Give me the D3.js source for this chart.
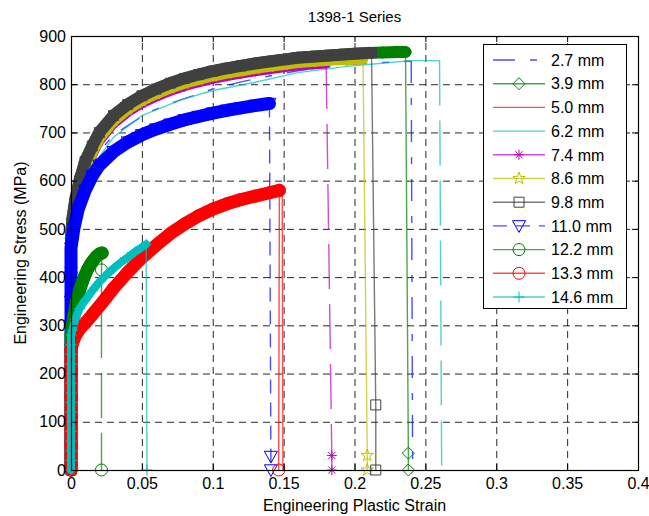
<!DOCTYPE html>
<html>
<head>
<meta charset="utf-8">
<script src="https://cdn.jsdelivr.net/npm/d3@7"></script>
<style>
  body { margin: 0; background: #fff; }
  text { font-family: "Liberation Sans", Arial, Helvetica, sans-serif; fill: #000; }
</style>
</head>
<body>
<div id="chart"></div>
<script>
// ---- data ----
const chartTitle = '1398-1 Series';
const xLabel = 'Engineering Plastic Strain';
const yLabel = 'Engineering Stress (MPa)';

const xTickValues = [0, 0.05, 0.1, 0.15, 0.2, 0.25, 0.3, 0.35, 0.4];
const xTickLabels = ['0', '0.05', '0.1', '0.15', '0.2', '0.25', '0.3', '0.35', '0.4'];
const yTickValues = [0, 100, 200, 300, 400, 500, 600, 700, 800, 900];
const yTickLabels = ['0', '100', '200', '300', '400', '500', '600', '700', '800', '900'];

const seriesLabels = ['2.7 mm', '3.9 mm', '5.0 mm', '6.2 mm', '7.4 mm', '8.6 mm',
    '9.8 mm', '11.0 mm', '12.2 mm', '13.3 mm', '14.6 mm'];

// [strain, stress] up to the failure point
const curve27 = [[0, 0], [0, 440], [0.001, 480], [0.003, 525], [0.006, 565], [0.01, 600], [0.015, 632],
    [0.02, 660], [0.03, 695], [0.043, 720], [0.055, 742], [0.068, 758], [0.08, 770], [0.1, 790],
    [0.12, 805], [0.14, 817], [0.16, 828], [0.18, 836], [0.2, 842], [0.22, 845], [0.24, 848]];
const curve39 = [[0, 0], [0, 60], [0, 120], [0, 180], [0, 240], [0, 300], [0, 360], [0, 420], [0, 480],
    [0.001, 520], [0.003, 560], [0.006, 600], [0.01, 640], [0.015, 672], [0.02, 700], [0.03, 735],
    [0.04, 758], [0.05, 776], [0.06, 790], [0.07, 802], [0.08, 812], [0.09, 820], [0.1, 827],
    [0.11, 833], [0.12, 838], [0.13, 843], [0.14, 847], [0.15, 851], [0.16, 855], [0.17, 857],
    [0.18, 859], [0.19, 861], [0.2, 863], [0.21, 865], [0.22, 866], [0.23, 867], [0.236, 867]];
const curve50 = [[0, 0], [0, 250], [0.001, 264], [0.003, 280], [0.006, 294], [0.01, 307], [0.02, 342],
    [0.03, 379], [0.04, 412], [0.05, 442], [0.06, 468], [0.07, 492], [0.08, 512], [0.09, 529],
    [0.1, 543], [0.11, 554], [0.12, 563], [0.13, 570], [0.14, 577], [0.149, 582]];
const curve62 = [[0, 0], [0, 430], [0.001, 470], [0.005, 540], [0.01, 590], [0.02, 650], [0.03, 690],
    [0.05, 735], [0.078, 768], [0.1, 787], [0.13, 804], [0.16, 824], [0.195, 837], [0.225, 845],
    [0.24, 849], [0.26, 849]];
const curve74 = [[0, 0], [0, 50], [0, 100], [0, 150], [0, 200], [0, 250], [0, 300], [0, 350], [0, 400],
    [0, 450], [0.001, 498], [0.003, 538], [0.006, 579], [0.01, 619], [0.015, 652], [0.02, 681],
    [0.03, 717], [0.04, 741], [0.05, 759], [0.06, 773], [0.07, 785], [0.08, 795], [0.09, 803],
    [0.1, 810], [0.11, 816], [0.12, 821], [0.13, 826], [0.14, 830], [0.15, 834], [0.16, 838],
    [0.17, 840], [0.18, 842]];
const curve86 = [[0, 0], [0, 50], [0, 100], [0, 150], [0, 200], [0, 250], [0, 300], [0, 350], [0, 400],
    [0, 460], [0.001, 505], [0.003, 545], [0.006, 586], [0.01, 626], [0.015, 659], [0.02, 688],
    [0.03, 724], [0.04, 748], [0.05, 766], [0.06, 780], [0.07, 792], [0.08, 802], [0.09, 810],
    [0.1, 817], [0.11, 823], [0.12, 828], [0.13, 833], [0.14, 837], [0.15, 841], [0.16, 845],
    [0.17, 847], [0.18, 849], [0.19, 851], [0.2, 852], [0.206, 853]];
const curve98 = [[0, 0], [0, 60], [0, 120], [0, 180], [0, 240], [0, 300], [0, 360], [0, 420], [0, 480],
    [0.001, 520], [0.003, 560], [0.006, 600], [0.01, 640], [0.015, 672], [0.02, 700], [0.03, 735],
    [0.04, 758], [0.05, 776], [0.06, 790], [0.07, 802], [0.08, 812], [0.09, 820], [0.1, 827],
    [0.11, 833], [0.12, 838], [0.13, 843], [0.14, 847], [0.15, 851], [0.16, 855], [0.17, 857],
    [0.18, 859], [0.19, 861], [0.2, 863], [0.212, 865]];
const curve110 = [[0, 0], [0, 50], [0, 100], [0, 150], [0, 200], [0, 250], [0, 300], [0, 350], [0, 400],
    [0, 460], [0.002, 500], [0.005, 540], [0.01, 580], [0.015, 610], [0.02, 632], [0.03, 660],
    [0.04, 680], [0.05, 695], [0.06, 707], [0.07, 717], [0.08, 726], [0.09, 733], [0.1, 740],
    [0.11, 746], [0.12, 751], [0.13, 756], [0.14, 760]];
const curve122 = [[0, 0], [0, 50], [0, 100], [0, 150], [0, 200], [0, 250], [0, 280], [0.001, 300],
    [0.002, 320], [0.004, 350], [0.006, 372], [0.008, 390], [0.01, 405], [0.012, 418], [0.014, 428],
    [0.016, 436], [0.018, 443], [0.02, 448], [0.022, 450]];
const curve133 = [[0, 0], [0, 50], [0, 100], [0, 150], [0, 200], [0, 250], [0.001, 262], [0.003, 278],
    [0.006, 292], [0.01, 305], [0.015, 322], [0.02, 340], [0.025, 358], [0.03, 377], [0.04, 410],
    [0.05, 440], [0.06, 466], [0.07, 490], [0.08, 510], [0.09, 527], [0.1, 541], [0.11, 552],
    [0.12, 561], [0.13, 568], [0.14, 575], [0.147, 580]];
const curve146 = [[0, 0], [0, 20], [0, 40], [0, 60], [0, 80], [0, 100], [0, 120], [0, 140], [0, 160],
    [0, 180], [0, 200], [0, 220], [0, 240], [0, 260], [0, 280], [0.001, 290], [0.003, 312],
    [0.006, 335], [0.01, 352], [0.015, 372], [0.02, 390], [0.025, 405], [0.03, 418], [0.035, 430],
    [0.04, 441], [0.045, 452], [0.05, 462], [0.053, 468]];

const seriesCurves = [curve27, curve39, curve50, curve62, curve74, curve86,
    curve98, curve110, curve122, curve133, curve146];

// after failure each record drops to zero at this strain, through these stresses
const dropStrain = [0.241, 0.238, 0.1495, 0.2615, 0.184, 0.209, 0.215, 0.141, 0.0215, 0.1465, 0.0536];
const dropStress = [[0], [35, 0], [0], [0], [30, 0], [30, 0], [135, 0], [28, 0], [415, 0], [0], [0]];

// ---- styles ----
const colors = ['#0000ff', '#008000', '#ff0000', '#00bfbf', '#bf00bf', '#bfbf00',
    '#404040', '#0000ff', '#008000', '#ff0000', '#00bfbf'];
const markers = [null, 'diamond', null, null, 'star', 'pentagram', 'square', 'triangle', 'circle', 'circle', 'plus'];
const dashDot = '22,15,7,15';
const dashed = '14,9';
const lineDash = [dashDot, null, null, null, null, null, null, dashed, null, null, null];
const dropDash = [dashDot, null, null, '45,15', '45,15', null, null, dashed, '45,15', null, null];
const markerSize = {square: 10, diamond: 12, triangle: 13, circle: 12, star: 10, pentagram: 13, plus: 11};
const bandWidth = {square: 12, diamond: 12, triangle: 13, circle: 13, star: 9, pentagram: 11, plus: 8};

const W = 649, H = 516;
const margin = {top: 36, right: 11, bottom: 46, left: 71};

const svg = d3.select('#chart').append('svg')
    .attr('width', W)
    .attr('height', H);

const x = d3.scaleLinear().domain([0, 0.4]).range([margin.left, W - margin.right]);
const y = d3.scaleLinear().domain([0, 900]).range([H - margin.bottom, margin.top]);
const plotW = x(0.4) - x(0), plotH = y(0) - y(900);

// white plot area
svg.append('rect')
    .attr('x', x(0)).attr('y', y(900))
    .attr('width', plotW).attr('height', plotH)
    .attr('fill', '#fff');

// grid
const gx = svg.append('g')
    .attr('transform', `translate(0,${y(0)})`)
    .call(d3.axisBottom(x).tickValues(xTickValues).tickSize(-plotH).tickFormat(''));
const gy = svg.append('g')
    .attr('transform', `translate(${x(0)},0)`)
    .call(d3.axisLeft(y).tickValues(yTickValues).tickSize(-plotW).tickFormat(''));
[gx, gy].forEach(g => {
    g.select('.domain').remove();
    g.selectAll('line').attr('stroke', '#000').attr('stroke-dasharray', '7,5').attr('stroke-opacity', 0.85);
});

// marker shapes
function markerPath(type) {
    const s = markerSize[type], r = s / 2;
    switch (type) {
        case 'square': return `M${-r},${-r}H${r}V${r}H${-r}Z`;
        case 'diamond': return `M0,${-r}L${r},0L0,${r}L${-r},0Z`;
        case 'triangle': return `M${-r},${-s * 0.4}L${r},${-s * 0.4}L0,${s * 0.5}Z`;
        case 'circle': return d3.symbol(d3.symbolCircle, Math.PI * r * r)();
        case 'plus': return `M${-r},0H${r}M0,${-r}V${r}`;
        case 'star': {
            const d = r * 0.72;
            return `M${-r},0H${r}M0,${-r}V${r}M${-d},${-d}L${d},${d}M${-d},${d}L${d},${-d}`;
        }
        case 'pentagram': {
            let p = '';
            for (let k = 0; k < 10; k++) {
                const rad = k % 2 === 0 ? r : r * 0.4;
                const a = -Math.PI / 2 + k * Math.PI / 5;
                p += (k === 0 ? 'M' : 'L') + (rad * Math.cos(a)).toFixed(2) + ',' + (rad * Math.sin(a)).toFixed(2);
            }
            return p + 'Z';
        }
    }
}

const line = d3.line().x(d => x(d[0])).y(d => y(d[1]));
const plot = svg.append('g');

seriesCurves.forEach((pts, i) => {
    const g = plot.append('g');
    const col = colors[i];
    const drop = dropStress[i].map(s => [dropStrain[i], s]);

    // thin line through the record
    g.append('path')
        .attr('d', line(pts))
        .attr('fill', 'none')
        .attr('stroke', col)
        .attr('stroke-width', 1.4)
        .attr('stroke-opacity', 0.7)
        .attr('stroke-dasharray', lineDash[i]);

    // drop after failure
    g.append('path')
        .attr('d', line([pts[pts.length - 1], ...drop]))
        .attr('fill', 'none')
        .attr('stroke', col)
        .attr('stroke-width', 1.4)
        .attr('stroke-opacity', 0.7)
        .attr('stroke-dasharray', dropDash[i]);

    const m = markers[i];
    if (!m) return;

    // dense markers along the record read as a solid band
    g.append('path')
        .attr('d', line(pts))
        .attr('fill', 'none')
        .attr('stroke', col)
        .attr('stroke-width', bandWidth[m])
        .attr('stroke-linejoin', 'round')
        .attr('stroke-linecap', 'round');

    g.selectAll('.mk')
        .data(pts.concat(drop))
        .enter().append('path')
        .attr('class', 'mk')
        .attr('d', markerPath(m))
        .attr('transform', d => `translate(${x(d[0])},${y(d[1])})`)
        .attr('fill', 'none')
        .attr('stroke', col)
        .attr('stroke-width', 1);
});

// axes: inner ticks on all four sides + labels
const fs = 16;
const xb = svg.append('g')
    .attr('transform', `translate(0,${y(0)})`)
    .call(d3.axisBottom(x).tickValues(xTickValues).tickSize(-6).tickPadding(8)
        .tickFormat((d, i) => xTickLabels[i]));
const yl = svg.append('g')
    .attr('transform', `translate(${x(0)},0)`)
    .call(d3.axisLeft(y).tickValues(yTickValues).tickSize(-6).tickPadding(5)
        .tickFormat((d, i) => yTickLabels[i]));
const xt = svg.append('g')
    .attr('transform', `translate(0,${y(900)})`)
    .call(d3.axisTop(x).tickValues(xTickValues).tickSize(-6).tickFormat(''));
const yr = svg.append('g')
    .attr('transform', `translate(${x(0.4)},0)`)
    .call(d3.axisRight(y).tickValues(yTickValues).tickSize(-6).tickFormat(''));
[xb, yl, xt, yr].forEach(g => {
    g.select('.domain').remove();
    g.selectAll('line').attr('stroke', '#000');
    g.selectAll('text').attr('font-size', fs).attr('font-family', '"Liberation Sans", Arial, sans-serif');
});

// axes box
svg.append('rect')
    .attr('x', x(0) + 0.5).attr('y', y(900) + 0.5)
    .attr('width', plotW).attr('height', plotH)
    .attr('fill', 'none')
    .attr('stroke', '#000')
    .attr('stroke-width', 1.2);

// title and axis labels
svg.append('text')
    .attr('x', (x(0) + x(0.4)) / 2).attr('y', 22)
    .attr('text-anchor', 'middle').attr('font-size', 15)
    .text(chartTitle);
svg.append('text')
    .attr('x', (x(0) + x(0.4)) / 2).attr('y', 511)
    .attr('text-anchor', 'middle').attr('font-size', fs)
    .text(xLabel);
svg.append('text')
    .attr('transform', `translate(26,${(y(0) + y(900)) / 2}) rotate(-90)`)
    .attr('text-anchor', 'middle').attr('font-size', fs)
    .text(yLabel);

// legend
const lg = svg.append('g').attr('transform', 'translate(483,44)');
lg.append('rect')
    .attr('x', 0.5).attr('y', 0.5)
    .attr('width', 143).attr('height', 264)
    .attr('fill', '#fff').attr('stroke', '#000');
seriesLabels.forEach((lab, i) => {
    const cy = 16 + i * 23.7;
    const row = lg.append('g').attr('transform', `translate(0,${cy})`);
    row.append('line')
        .attr('x1', 10).attr('x2', 62)
        .attr('stroke', colors[i])
        .attr('stroke-width', 1.4)
        .attr('stroke-opacity', 0.7)
        .attr('stroke-dasharray', lineDash[i]);
    if (markers[i]) {
        row.append('path')
            .attr('d', markerPath(markers[i]))
            .attr('transform', 'translate(36,0)')
            .attr('fill', 'none')
            .attr('stroke', colors[i]);
    }
    row.append('text')
        .attr('x', 68).attr('dy', '0.36em')
        .attr('font-size', fs)
        .text(lab);
});
</script>
</body>
</html>
